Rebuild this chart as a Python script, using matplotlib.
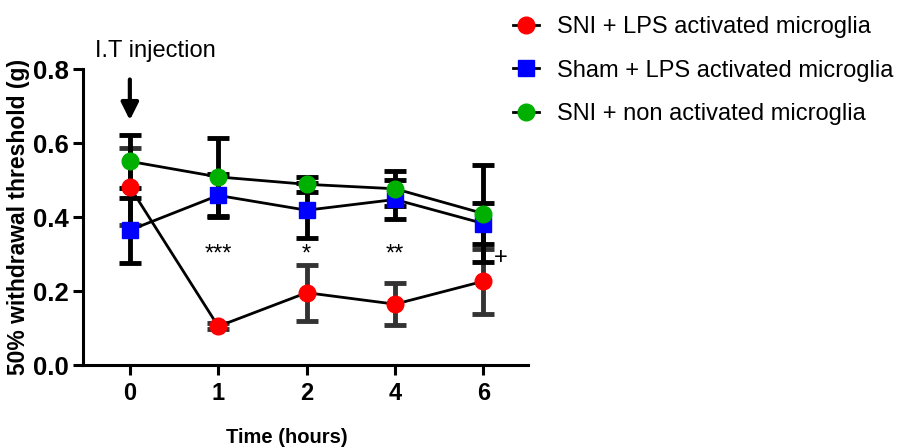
import numpy as np
import matplotlib
matplotlib.use("Agg")
import matplotlib.pyplot as plt

# time points (categorical positions) and tick labels
times = ["0", "1", "2", "4", "6"]

sni_lps = [0.482, 0.105, 0.196, 0.165, 0.227]
sni_lps_err = [0.104, 0.008, 0.076, 0.057, 0.088]
sham_lps = [0.365, 0.459, 0.419, 0.448, 0.383]
sham_lps_err = [0.088, 0.058, 0.074, 0.053, 0.056]
sni_non = [0.551, 0.509, 0.489, 0.477, 0.410]
sni_non_err = [0.071, 0.105, 0.020, 0.047, 0.130]

stars = ["***", "*", "**", ""]
star_y = 0.30

plt.rcParams.update({"font.family": "Liberation Sans", "font.size": 17})
fig = plt.figure(figsize=(9.02, 4.47), dpi=100)
ax = fig.add_axes([0.092, 0.183, 0.493, 0.662])
x = np.arange(len(times))

series = [
    (sni_lps, sni_lps_err, "#ff0000", "o", "SNI + LPS activated microglia", "#333333"),
    (sham_lps, sham_lps_err, "#0000ff", "s", "Sham + LPS activated microglia", "black"),
    (sni_non, sni_non_err, "#00b000", "o", "SNI + non activated microglia", "black"),
]
for vals, err, col, mk, lab, ecol in series:
    ax.errorbar(x, vals, yerr=err, fmt="none", ecolor=ecol, elinewidth=3.5,
                capsize=8, capthick=3.5, zorder=2)
    ax.plot(x, vals, "-", color="black", lw=2, zorder=3)
    ax.plot(x, vals, mk, color=col, ms=12 if mk == "o" else 11, mec=col,
            zorder=4, ls="none")
    ax.plot([], [], "-" + mk, color="black", mfc=col, mec=col,
            ms=12 if mk == "o" else 11, lw=2, label=lab)

for i, s in enumerate(stars):
    if s:
        ax.text(x[i + 1], star_y, s, ha="center", va="center", fontsize=17)
ax.text(x[-1] + 0.19, star_y - 0.01, "+", ha="center", va="center", fontsize=17)

ax.annotate("", xy=(0, 0.655), xytext=(0, 0.78),
            arrowprops=dict(arrowstyle="-|>", color="black", lw=3, mutation_scale=26),
            annotation_clip=False)
ax.text(-0.39, 0.85, "I.T injection", ha="left", va="center", fontsize=17,
        clip_on=False)

ax.set_xlim(-0.53, 4.5)
ax.set_ylim(0, 0.8)
ax.set_xticks(x)
ax.set_xticklabels(times, fontweight="bold")
ax.set_yticks([0.0, 0.2, 0.4, 0.6, 0.8])
ax.set_yticklabels(["0.0", "0.2", "0.4", "0.6", "0.8"], fontweight="bold",
                   fontsize=18.5)
ax.tick_params(width=2.2, length=7, labelsize=17, pad=5)
ax.tick_params(axis="y", labelsize=18.5, pad=3)
for s in ("top", "right"):
    ax.spines[s].set_visible(False)
for s in ("left", "bottom"):
    ax.spines[s].set_linewidth(2.2)
ax.set_ylabel("50% withdrawal threshold (g)", fontweight="bold", fontsize=16.5,
              labelpad=2)
fig.text(0.318, 0.022, "Time (hours)", ha="center", va="center",
         fontweight="bold", fontsize=14.5)

fig.legend(loc="upper left", bbox_to_anchor=(0.545, 1.012), frameon=False,
           fontsize=17, handlelength=1.1, handletextpad=0.75, labelspacing=0.92)
fig.savefig("out.png", dpi=100)
